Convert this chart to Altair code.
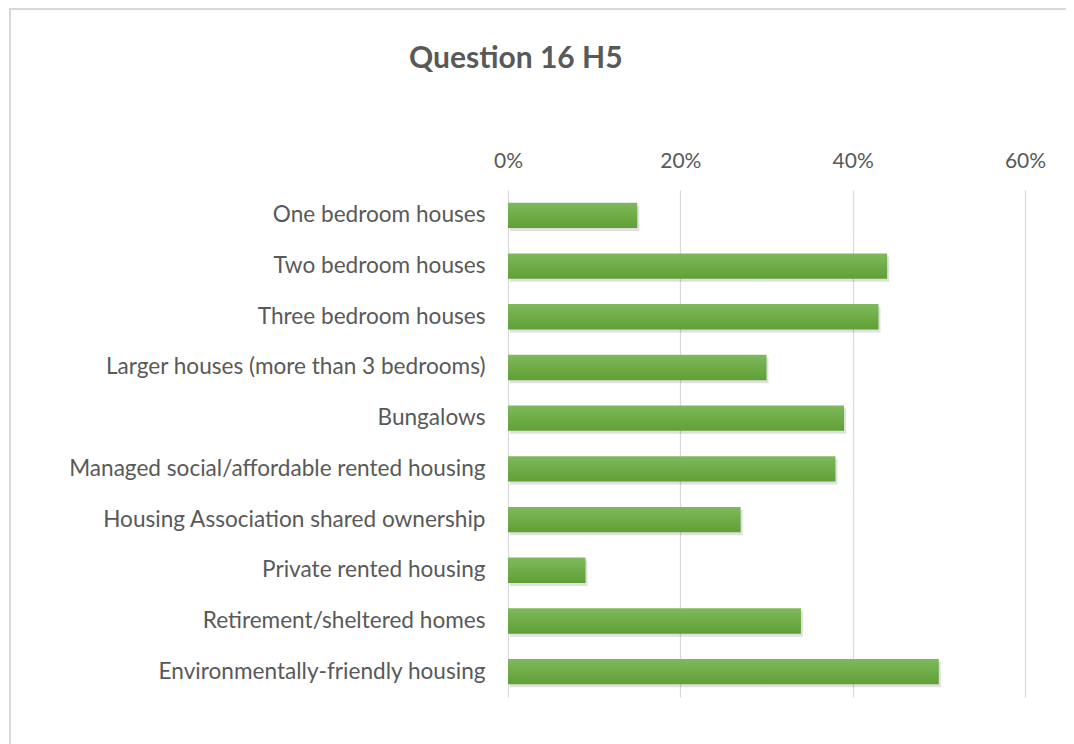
import altair as alt
import pandas as pd

categories = [
    "One bedroom houses",
    "Two bedroom houses",
    "Three bedroom houses",
    "Larger houses (more than 3 bedrooms)",
    "Bungalows",
    "Managed social/affordable rented housing",
    "Housing Association shared ownership",
    "Private rented housing",
    "Retirement/sheltered homes",
    "Environmentally-friendly housing",
]
values = [0.15, 0.44, 0.43, 0.30, 0.39, 0.38, 0.27, 0.09, 0.34, 0.50]
x_ticks = [0, 0.2, 0.4, 0.6]

df = pd.DataFrame({"category": categories, "value": values})

FONT = "Lato"
GRAY = "#595959"

y_enc = alt.Y(
    "category:N",
    sort=categories,
    title=None,
    scale=alt.Scale(paddingInner=0.5, paddingOuter=0.25),
    axis=alt.Axis(
        labelFontSize=22.6, labelColor=GRAY, labelFont=FONT, labelPadding=23,
        ticks=False, domain=False, grid=False, labelLimit=490,
    ),
)
x_enc = alt.X(
    "value:Q",
    title=None,
    scale=alt.Scale(domain=[0, 0.6], nice=False),
    axis=alt.Axis(
        orient="top", values=x_ticks, format=".0%", labelFontSize=21,
        labelColor=GRAY, labelFont=FONT, labelPadding=19, ticks=False,
        labelFlush=False, labelOverlap=False,
        domain=False, grid=True, gridColor="#d9d9d9", gridWidth=1.2,
    ),
)

green = alt.Gradient(
    gradient="linear",
    stops=[alt.GradientStop(color="#7fb95c", offset=0),
           alt.GradientStop(color="#5fa035", offset=1)],
    x1=0, x2=0, y1=0, y2=1,
)

shadow = alt.Chart(df).mark_bar(color="#000000", opacity=0.12, yOffset=3, xOffset=2).encode(
    y=y_enc, x=x_enc
)
bars = alt.Chart(df).mark_bar(color=green).encode(y=y_enc, x=x_enc)

border = alt.Chart(df).mark_rect(fill=None, stroke="#d9d9d9", strokeWidth=1.5).encode(
    x=alt.value(-498), x2=alt.value(700), y=alt.value(-181), y2=alt.value(700)
)

chart = alt.layer(border, shadow, bars).properties(
    width=517,
    height=507,
    padding={"left": 500, "top": 182, "right": 41, "bottom": 47},
    autosize=alt.AutoSizeParams(type="none"),
    view=alt.ViewBackground(stroke="transparent", strokeWidth=0),
    title=alt.TitleParams(
        "Question 16 H5", font=FONT, fontSize=30, fontWeight="bold", color=GRAY,
        anchor="start", frame="group", dx=-99, offset=0, baseline="alphabetic", dy=90,
    ),
).configure_view(stroke="transparent", strokeWidth=0).configure(background="white")

chart.save("out.html", embed_options={"renderer": "svg", "actions": False})
